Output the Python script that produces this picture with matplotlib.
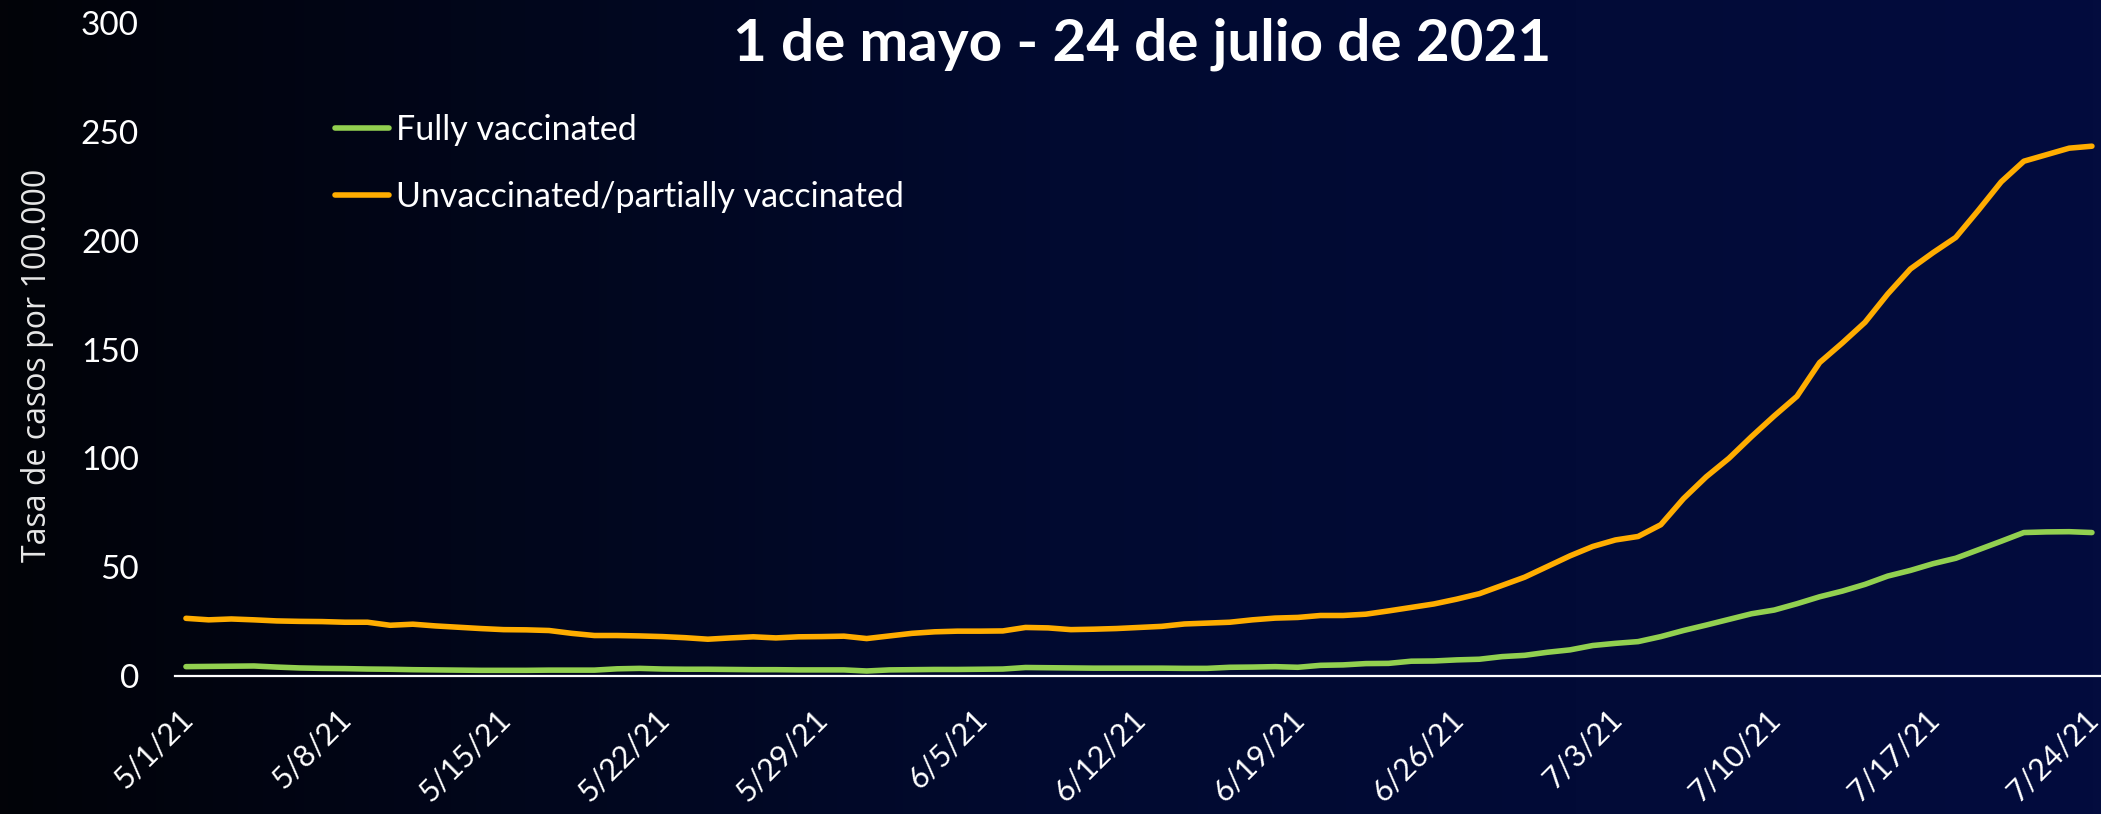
import numpy as np
import pandas as pd
import matplotlib
matplotlib.use("Agg")
import matplotlib.pyplot as plt
import matplotlib.dates as mdates
import matplotlib.transforms as mtransforms
from matplotlib.ticker import FuncFormatter
from matplotlib.colors import LinearSegmentedColormap

# daily case rate per 100,000, 5/1/21 .. 7/24/21
start_date = "2021-05-01"
end_date = "2021-07-24"

fully_vaccinated = [
    4.3, 4.4, 4.5, 4.6, 4.1, 3.7, 3.5, 3.4, 3.2, 3.1,
    2.9, 2.8, 2.7, 2.6, 2.6, 2.6, 2.7, 2.7, 2.7, 3.3,
    3.5, 3.2, 3.1, 3.1, 3.0, 2.9, 2.9, 2.8, 2.8, 2.8,
    2.3, 2.8, 2.9, 3.0, 3.0, 3.1, 3.2, 3.9, 3.8, 3.7,
    3.6, 3.6, 3.6, 3.6, 3.5, 3.5, 4.0, 4.1, 4.3, 4.0,
    4.9, 5.1, 5.7, 5.8, 6.8, 6.9, 7.4, 7.7, 8.9, 9.5,
    10.9, 12.0, 14.0, 15.0, 15.8, 18.1, 20.9, 23.4, 26.0, 28.6,
    30.3, 33.2, 36.4, 39.0, 42.1, 45.9, 48.5, 51.6, 54.1, 58.0,
    61.9, 65.9, 66.2, 66.3, 65.9,
]

unvaccinated = [
    26.5, 25.8, 26.2, 25.8, 25.3, 25.1, 25.0, 24.7, 24.7, 23.3,
    23.8, 23.0, 22.4, 21.8, 21.3, 21.2, 20.9, 19.6, 18.6, 18.6,
    18.4, 18.1, 17.6, 16.9, 17.5, 18.0, 17.5, 18.0, 18.1, 18.3,
    17.2, 18.4, 19.6, 20.3, 20.6, 20.6, 20.7, 22.3, 22.1, 21.3,
    21.5, 21.8, 22.3, 22.8, 23.9, 24.3, 24.7, 25.8, 26.6, 26.9,
    27.8, 27.8, 28.4, 29.9, 31.5, 33.1, 35.3, 37.8, 41.6, 45.4,
    50.3, 55.2, 59.5, 62.5, 64.1, 69.5, 81.5, 91.5, 100.0, 110.0,
    119.5, 128.5, 144.0, 153.0, 162.5, 175.5, 187.0, 194.5, 201.5, 214.0,
    227.0, 236.5, 239.5, 242.5, 243.4,
]

labels = ["Fully vaccinated", "Unvaccinated/partially vaccinated"]
title = "1 de mayo - 24 de julio de 2021"
ylabel = "Tasa de casos por 100.000"
yticks = [0, 50, 100, 150, 200, 250, 300]

GREEN = "#92D050"
ORANGE = "#FFAD00"

dates = pd.date_range(start_date, end_date, freq="D")

W, H = 2101, 814
fig = plt.figure(figsize=(W / 100, H / 100), dpi=100)

# background: black on the left fading to dark navy on the right
bg = fig.add_axes([0, 0, 1, 1], zorder=-5)
cmap = LinearSegmentedColormap.from_list("bg", ["#020308", "#010a30", "#030c3e"])
grad = np.linspace(0, 1, 512).reshape(1, -1)
bg.imshow(grad, aspect="auto", cmap=cmap, extent=[0, 1, 0, 1])
bg.axis("off")

ax = fig.add_axes([175 / W, (H - 676) / H, 1 - 175 / W, (676 - 23) / H])
ax.patch.set_alpha(0)

ax.plot(dates, fully_vaccinated, color=GREEN, lw=4, solid_capstyle="round",
        label=labels[0], zorder=3)
ax.plot(dates, unvaccinated, color=ORANGE, lw=4, solid_capstyle="round",
        label=labels[1], zorder=3)

ax.set_xlim(dates[0] - pd.Timedelta(hours=11.6), dates[0] + pd.Timedelta(days=84.4))
ax.set_ylim(0, 300)
ax.set_yticks(yticks)
ax.set_xticks(dates[::7])
ax.xaxis.set_major_formatter(FuncFormatter(
    lambda v, _: (lambda d: f"{d.month}/{d.day}/{d.strftime('%y')}")(mdates.num2date(v))))

for s in ["top", "right", "left"]:
    ax.spines[s].set_visible(False)
ax.spines["bottom"].set_color("white")
ax.spines["bottom"].set_linewidth(1.6)

ax.tick_params(axis="y", length=0, pad=26, labelsize=24, labelcolor="white")
ax.tick_params(axis="x", length=0, pad=17, labelsize=22, labelcolor="white")
for t in ax.get_yticklabels():
    t.set_fontfamily("Lato")

# nudge the rotated date labels left/down so the last one stays inside
shift = mtransforms.ScaledTranslation(-8 / 100, -5 / 100, fig.dpi_scale_trans)
for t in ax.get_xticklabels():
    t.set_fontfamily("Lato")
    t.set_rotation(45)
    t.set_ha("right")
    t.set_va("top")
    t.set_rotation_mode("anchor")
    t.set_transform(t.get_transform() + shift)

fig.text(38 / W, 1 - 365 / H, ylabel, rotation=90, ha="center", va="center",
         color="#e8e8e8", fontsize=23, fontfamily="Open Sans")

fig.text(1142 / W, 1 - 44 / H, title, ha="center", va="center", color="white",
         fontsize=42, fontweight="bold", fontfamily="Lato")

leg = ax.legend(loc="upper left", bbox_to_anchor=(335 / W, 1 - 114 / H),
                bbox_transform=fig.transFigure, frameon=False,
                handlelength=1.6, handletextpad=0.18, labelspacing=1.04,
                borderpad=0, borderaxespad=0, prop={"family": "Lato", "size": 24.5})
for t in leg.get_texts():
    t.set_color("white")

fig.savefig("out.png", dpi=100, facecolor="black")
